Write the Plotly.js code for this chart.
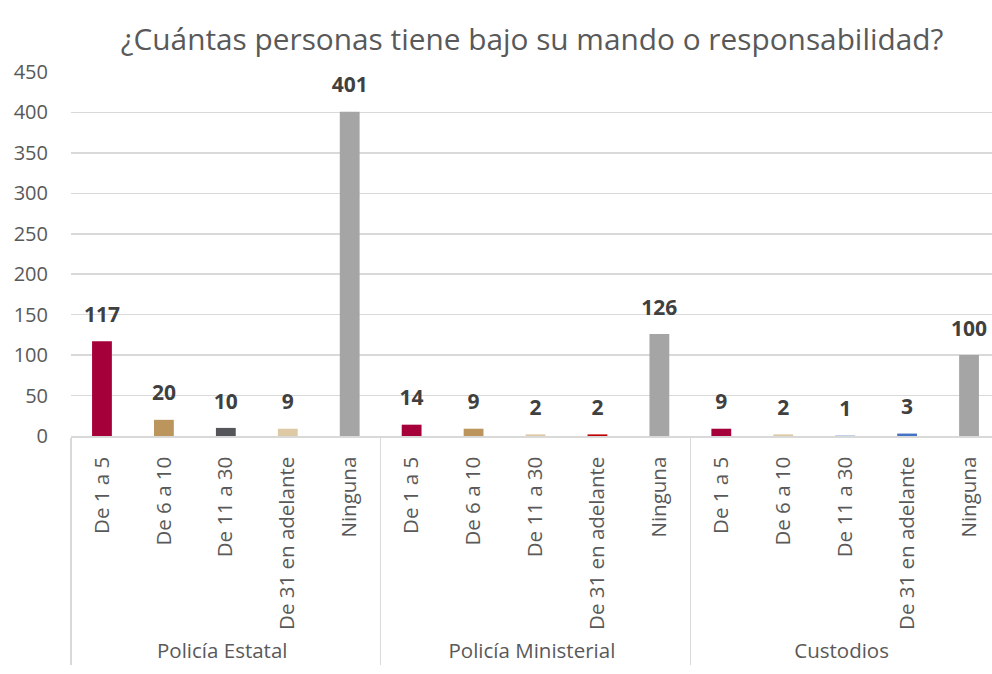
<!DOCTYPE html>
<html>
<head>
<meta charset="utf-8">
<script src="https://cdn.plot.ly/plotly-3.0.1.min.js"></script>
<style>
html,body{margin:0;padding:0;overflow:hidden;background:#fff;}
#chart{width:1000px;height:674px;}
</style>
</head>
<body>
<div id="chart"></div>
<script>
// Data
const groups = ["Policía Estatal", "Policía Ministerial", "Custodios"];
const ranges = ["De 1 a 5", "De 6 a 10", "De 11 a 30", "De 31 en adelante", "Ninguna"];
const policiaEstatal = [117, 20, 10, 9, 401];
const policiaMinisterial = [14, 9, 2, 2, 126];
const custodios = [9, 2, 1, 3, 100];
const yTicks = [0, 50, 100, 150, 200, 250, 300, 350, 400, 450];

// Styles
const groupColors = [
  ["#A6003A", "#BC955C", "#54565A", "#DDC9A3", "#A5A5A5"],
  ["#A6003A", "#BC955C", "#DDC9A3", "#C00000", "#A5A5A5"],
  ["#A6003A", "#DDC9A3", "#B4C7E7", "#4472C4", "#A5A5A5"]
];

const seriesByGroup = [policiaEstatal, policiaMinisterial, custodios];
const xOuter = [], xInner = [], yVals = [], colors = [];
groups.forEach((g, gi) => {
  ranges.forEach((r, ri) => {
    xOuter.push(g);
    xInner.push(r);
    yVals.push(seriesByGroup[gi][ri]);
    colors.push(groupColors[gi][ri]);
  });
});
const nCats = xInner.length;

const font = "'Open Sans', sans-serif";

const bars = {
  type: "bar",
  x: [xOuter, xInner],
  y: yVals,
  marker: {color: colors},
  hoverinfo: "x+y"
};

const labels = {
  type: "scatter",
  mode: "markers+text",
  x: [xOuter, xInner],
  y: yVals,
  marker: {size: 21, color: "rgba(0,0,0,0)"},
  text: yVals.map(String),
  textposition: "top center",
  cliponaxis: false,
  textfont: {family: font, size: 21, color: "#404040", weight: "bold"},
  hoverinfo: "skip"
};

const layout = {
  width: 1000,
  height: 674,
  margin: {l: 71, r: 0, t: 72, b: 238},
  paper_bgcolor: "#fff",
  plot_bgcolor: "#fff",
  bargap: 0.68,
  showlegend: false,
  font: {family: font, color: "#595959", size: 20},
  title: {
    text: "¿Cuántas personas tiene bajo su mando o responsabilidad?",
    font: {family: font, size: 29.8, color: "#595959"},
    x: 0.532, xanchor: "center",
    y: 1 - 40/674, yanchor: "middle", yref: "container"
  },
  xaxis: {
    type: "multicategory",
    range: [-0.5, nCats - 0.5],
    autorange: false,
    tickangle: -90,
    showline: true,
    linecolor: "#D9D9D9",
    linewidth: 1.5,
    showdividers: true,
    dividercolor: "#D9D9D9",
    dividerwidth: 1.5,
    ticks: "",
    ticklabelstandoff: 11,
    tickfont: {family: font, size: 20.5, color: "#595959"},
    showgrid: false,
    zeroline: false
  },
  yaxis: {
    range: [0, 450],
    autorange: false,
    tickvals: yTicks,
    ticktext: yTicks.map(String),
    showgrid: true,
    gridcolor: "#D9D9D9",
    gridwidth: 1.5,
    zeroline: false,
    showline: false,
    ticks: "",
    ticklabelstandoff: 22,
    tickfont: {family: font, size: 20, color: "#595959"}
  }
};

Plotly.newPlot("chart", [bars, labels], layout, {displayModeBar: false, staticPlot: true});
</script>
</body>
</html>
